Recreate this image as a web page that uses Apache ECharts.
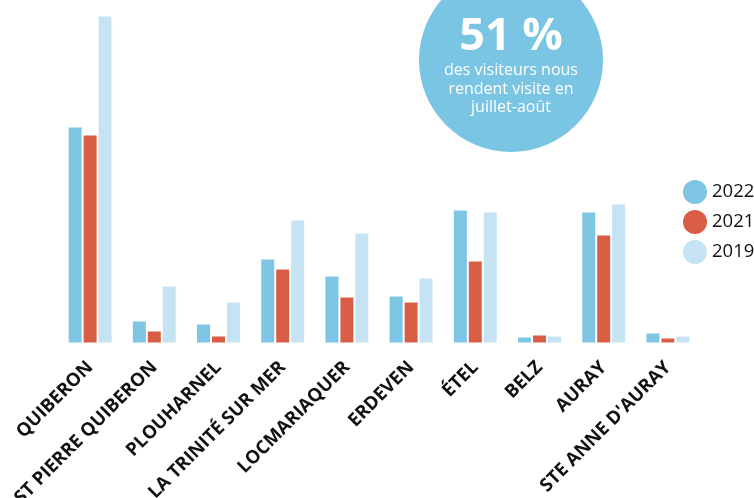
<!DOCTYPE html>
<html>
<head>
<meta charset="utf-8">
<script src="https://cdn.jsdelivr.net/npm/echarts@6/dist/echarts.min.js"></script>
<style>
  html, body { margin: 0; padding: 0; background: #fff; }
  #chart { width: 754px; height: 498px; }
</style>
</head>
<body>
<div id="chart"></div>
<script>
// communes (axe x)
const communes = ['QUIBERON', 'ST PIERRE QUIBERON', 'PLOUHARNEL', 'LA TRINITÉ SUR MER', 'LOCMARIAQUER',
  'ERDEVEN', 'ÉTEL', 'BELZ', 'AURAY', "STE ANNE D'AURAY"]
// valeurs relatives
const annees = ['2022', '2021', '2019']
const v2022 = [215, 21, 18, 83, 66, 46, 132, 5, 130, 9]
const v2021 = [207, 11, 6, 73, 45, 40, 81, 7, 107, 4]
const v2019 = [326, 56, 40, 122, 109, 64, 130, 6, 138, 6]
const couleurs = ['#7dc5e3', '#d95e45', '#c6e3f3']

const myChart = echarts.init(document.getElementById('chart'))

function serie (nom, data, i) {
  return {
    name: nom,
    type: 'bar',
    data: data,
    barWidth: 13,
    barGap: '15%',
    itemStyle: { color: couleurs[i] }
  }
}

const option = {
  animation: false,
  color: couleurs,
  grid: {
    left: 58, right: 54, top: 12.5, bottom: 155.5,
    containLabel: false,
    outerBoundsMode: 'none'
  },
  legend: {
    orient: 'vertical',
    left: 678,
    top: 175,
    icon: 'circle',
    itemWidth: 24,
    itemHeight: 24,
    itemGap: 6,
    data: annees,
    textStyle: { fontFamily: 'Open Sans', fontSize: 18.5, color: '#111' }
  },
  xAxis: {
    type: 'category',
    data: communes,
    axisLine: { show: false },
    axisTick: { show: false },
    axisLabel: {
      interval: 0,
      rotate: 45,
      margin: 22,
      color: '#111',
      fontFamily: 'Open Sans',
      fontWeight: 'bold',
      fontSize: 18.5
    }
  },
  yAxis: {
    type: 'value',
    min: 0,
    max: 330,
    show: false
  },
  graphic: [
    {
      type: 'circle',
      shape: { cx: 511, cy: 60, r: 92 },
      style: { fill: '#7ac5e3' },
      z: 10
    },
    {
      type: 'text',
      x: 511, y: 37,
      style: {
        text: '51 %', fill: '#fff', fontFamily: 'Open Sans', fontWeight: 'bold', fontSize: 45,
        align: 'center', verticalAlign: 'middle'
      },
      z: 11
    },
    {
      type: 'text',
      x: 511, y: 89,
      style: {
        text: 'des visiteurs nous\nrendent visite en\njuillet-août', fill: '#fff', fontFamily: 'Open Sans',
        fontSize: 16, lineHeight: 18.5, align: 'center', verticalAlign: 'middle'
      },
      z: 11
    }
  ],
  series: [
    serie(annees[0], v2022, 0),
    serie(annees[1], v2021, 1),
    serie(annees[2], v2019, 2)
  ]
}

myChart.setOption(option)
window.addEventListener('resize', function () {
  myChart.resize()
})
</script>
</body>
</html>
